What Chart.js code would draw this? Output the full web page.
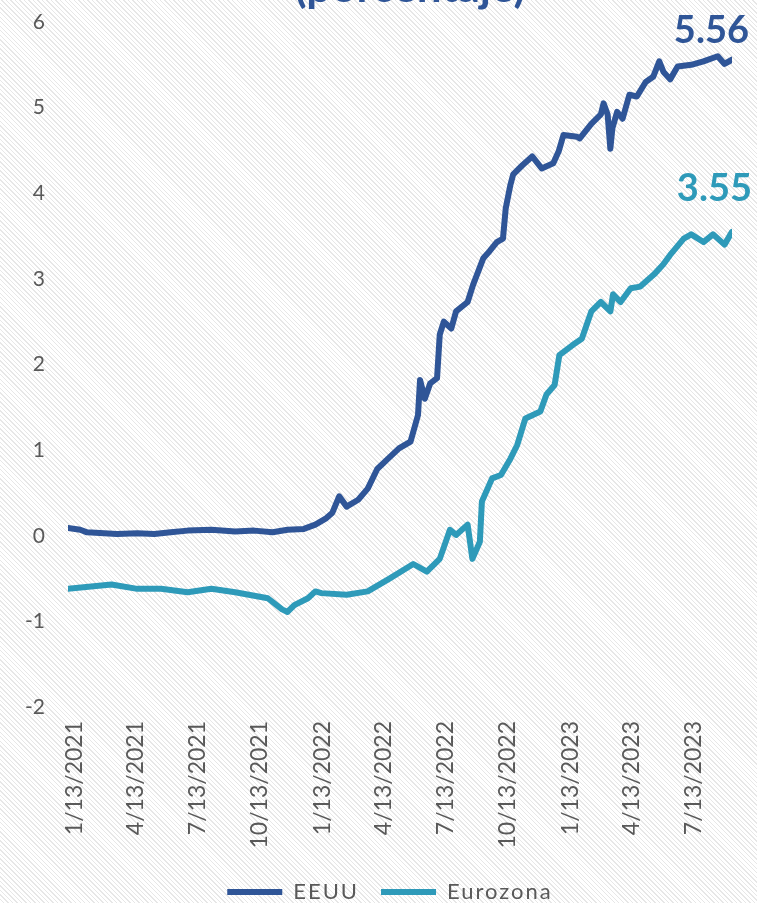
<!DOCTYPE html>
<html>
<head>
<meta charset="utf-8">
<script src="https://cdn.jsdelivr.net/npm/chart.js@4.4.1/dist/chart.umd.min.js"></script>
<style>
  html, body { margin: 0; padding: 0; }
  body {
    width: 757px; height: 903px; overflow: hidden;
    background: repeating-linear-gradient(45deg, #ffffff 0px, #ffffff 2.2px, #e7e7e7 2.2px, #e7e7e7 3.2px);
  }
  #wrap { position: relative; width: 757px; height: 903px; overflow: hidden; }
</style>
</head>
<body>
<div id="wrap"><canvas id="chart" width="757" height="913"></canvas></div>
<script>
// Tasa (porcentaje) - lectura aproximada del gráfico
const eeuuDates = [
  '2021-01-04', '2021-01-22', '2021-02-01', '2021-03-17', '2021-04-16', '2021-05-11',
  '2021-06-04', '2021-06-29', '2021-08-03', '2021-09-07', '2021-10-05', '2021-11-01',
  '2021-11-23', '2021-12-17', '2022-01-03', '2022-01-18', '2022-01-28', '2022-02-07',
  '2022-02-18', '2022-03-07', '2022-03-21', '2022-04-04', '2022-04-20', '2022-05-06',
  '2022-05-23', '2022-06-03', '2022-06-06', '2022-06-13', '2022-06-21', '2022-07-01',
  '2022-07-05', '2022-07-11', '2022-07-22', '2022-07-29', '2022-08-15', '2022-08-23',
  '2022-09-07', '2022-09-16', '2022-09-27', '2022-10-06', '2022-10-10', '2022-10-17',
  '2022-10-21', '2022-11-04', '2022-11-18', '2022-12-02', '2022-12-19', '2022-12-27',
  '2023-01-03', '2023-01-23', '2023-01-27', '2023-02-13', '2023-02-27', '2023-03-03',
  '2023-03-09', '2023-03-13', '2023-03-16', '2023-03-23', '2023-03-31', '2023-04-10',
  '2023-04-21', '2023-05-04', '2023-05-15', '2023-05-24', '2023-05-30', '2023-06-09',
  '2023-06-20', '2023-07-10', '2023-07-28', '2023-08-18', '2023-08-28', '2023-09-08'
];
const eeuuValues = [
  0.09, 0.07, 0.04, 0.02, 0.03, 0.02,
  0.04, 0.06, 0.07, 0.05, 0.06, 0.04,
  0.07, 0.08, 0.13, 0.20, 0.27, 0.46,
  0.34, 0.42, 0.55, 0.78, 0.90, 1.02,
  1.10, 1.41, 1.82, 1.60, 1.78, 1.84,
  2.35, 2.50, 2.42, 2.62, 2.73, 2.93,
  3.24, 3.32, 3.43, 3.47, 3.82, 4.10,
  4.22, 4.33, 4.43, 4.29, 4.35, 4.49,
  4.68, 4.66, 4.64, 4.81, 4.92, 5.05,
  4.92, 4.52, 4.76, 4.95, 4.87, 5.15,
  5.13, 5.30, 5.36, 5.54, 5.42, 5.33,
  5.48, 5.50, 5.54, 5.60, 5.51, 5.56
];

const euroDates = [
  '2021-01-04', '2021-03-09', '2021-04-16', '2021-05-21', '2021-06-29', '2021-08-03',
  '2021-09-07', '2021-10-05', '2021-10-25', '2021-11-15', '2021-11-23', '2021-12-03',
  '2021-12-23', '2022-01-03', '2022-01-12', '2022-02-18', '2022-03-21', '2022-04-22',
  '2022-05-27', '2022-06-16', '2022-07-05', '2022-07-20', '2022-07-29', '2022-08-15',
  '2022-08-22', '2022-09-02', '2022-09-05', '2022-09-20', '2022-10-03', '2022-10-17',
  '2022-10-27', '2022-11-08', '2022-11-30', '2022-12-09', '2022-12-21', '2022-12-28',
  '2023-01-17', '2023-01-30', '2023-02-13', '2023-02-27', '2023-03-13', '2023-03-17',
  '2023-03-28', '2023-04-12', '2023-04-26', '2023-05-16', '2023-05-30', '2023-06-09',
  '2023-06-29', '2023-07-10', '2023-07-28', '2023-08-11', '2023-08-28', '2023-09-08'
];
const euroValues = [
  -0.62, -0.57, -0.62, -0.62, -0.66, -0.62,
  -0.66, -0.70, -0.73, -0.86, -0.89, -0.81,
  -0.73, -0.65, -0.67, -0.69, -0.65, -0.50,
  -0.33, -0.42, -0.27, 0.07, 0.01, 0.13,
  -0.27, -0.07, 0.40, 0.67, 0.71, 0.90,
  1.06, 1.37, 1.45, 1.65, 1.76, 2.11,
  2.23, 2.30, 2.62, 2.73, 2.62, 2.82,
  2.73, 2.89, 2.91, 3.05, 3.17, 3.28,
  3.47, 3.52, 3.43, 3.52, 3.40, 3.55
];

const tickDates = [
  '2021-01-13', '2021-04-13', '2021-07-13', '2021-10-13', '2022-01-13', '2022-04-13',
  '2022-07-13', '2022-10-13', '2023-01-13', '2023-04-13', '2023-07-13'
];
const yTicks = [-2, -1, 0, 1, 2, 3, 4, 5, 6];

const seriesNames = ['EEUU', 'Eurozona'];
const colEEUU = '#2F5597';
const colEuro = '#2E9AB9';

const base = Date.UTC(2021, 0, 13);
function toDay(s) {
  const p = s.split('-').map(Number);
  return (Date.UTC(p[0], p[1] - 1, p[2]) - base) / 86400000;
}
function dayLabel(d) {
  const dt = new Date(base + d * 86400000);
  return (dt.getUTCMonth() + 1) + '/' + dt.getUTCDate() + '/' + dt.getUTCFullYear();
}
function pts(dates, vals) {
  return dates.map((d, i) => ({ x: toDay(d), y: vals[i] }));
}

const fam = 'Lato, "Open Sans", sans-serif';

// leyenda con un poco de espaciado entre letras, como en el original
const legendSpacing = {
  id: 'legendSpacing',
  beforeLayout(chart) {
    const leg = chart.legend;
    if (!leg || leg._spaced) return;
    leg._spaced = true;
    const wrap = (fn) => function () {
      const ctx = chart.ctx;
      const old = ctx.letterSpacing;
      ctx.letterSpacing = '2px';
      const r = fn.apply(this, arguments);
      ctx.letterSpacing = old || '0px';
      return r;
    };
    leg.fit = wrap(leg.fit);
    leg.draw = wrap(leg.draw);
  },
  afterLayout(chart) {
    // la leyenda del original queda un poco a la derecha del centro
    if (chart.legend) {
      chart.legend.left += 24;
      chart.legend.right += 24;
    }
  }
};

// titulo cortado arriba y etiquetas de valor final
const annot = {
  id: 'annot',
  afterDatasetsDraw(chart) {
    const ctx = chart.ctx;
    const ys = chart.scales.y;
    ctx.save();
    ctx.font = 'bold 44px ' + fam;
    ctx.fillStyle = colEEUU;
    ctx.textAlign = 'center';
    ctx.textBaseline = 'alphabetic';
    ctx.fillText('(porcentaje)', 410, 2);

    ctx.font = 'bold 38px ' + fam;
    ctx.textAlign = 'right';
    const lastE = eeuuValues[eeuuValues.length - 1];
    const lastZ = euroValues[euroValues.length - 1];
    ctx.fillStyle = colEEUU;
    ctx.fillText(lastE.toFixed(2), 749, ys.getPixelForValue(lastE) - 17);
    ctx.fillStyle = colEuro;
    ctx.fillText(lastZ.toFixed(2), 752, ys.getPixelForValue(lastZ) - 31);
    ctx.restore();
  }
};

const lineStyle = {
  borderWidth: 6,
  pointRadius: 0,
  tension: 0,
  borderJoinStyle: 'round',
  borderCapStyle: 'round',
  fill: false
};

new Chart(document.getElementById('chart').getContext('2d'), {
  type: 'line',
  data: {
    datasets: [
      Object.assign({ label: seriesNames[0], data: pts(eeuuDates, eeuuValues),
        borderColor: colEEUU, backgroundColor: colEEUU }, lineStyle),
      Object.assign({ label: seriesNames[1], data: pts(euroDates, euroValues),
        borderColor: colEuro, backgroundColor: colEuro }, lineStyle)
    ]
  },
  options: {
    responsive: false,
    animation: false,
    layout: { padding: { top: 22, right: 25, left: 0, bottom: 0 } },
    plugins: {
      legend: {
        position: 'bottom',
        labels: {
          usePointStyle: true,
          pointStyle: 'line',
          pointStyleWidth: 55,
          boxHeight: 6,
          color: '#595959',
          font: { family: fam, size: 22 },
          padding: 22
        }
      },
      tooltip: { enabled: false }
    },
    scales: {
      x: {
        type: 'linear',
        min: toDay(eeuuDates[0]),
        max: toDay(eeuuDates[eeuuDates.length - 1]),
        grid: { display: false, drawTicks: false },
        border: { display: false },
        afterBuildTicks(scale) {
          scale.ticks = tickDates.map(d => ({ value: toDay(d) }));
        },
        afterFit(scale) {
          scale.height = 152;
          scale.paddingLeft = 0;
          scale.paddingRight = 0;
          scale.paddingTop = 0;
          scale.paddingBottom = 0;
        },
        ticks: {
          autoSkip: false,
          minRotation: 90,
          maxRotation: 90,
          padding: 14,
          color: '#595959',
          font: { family: fam, size: 23 },
          callback: (v) => dayLabel(v)
        }
      },
      y: {
        min: -2,
        max: 6,
        grid: { display: false, drawTicks: false },
        border: { display: false },
        afterBuildTicks(scale) {
          scale.ticks = yTicks.map(v => ({ value: v }));
        },
        afterFit(scale) {
          scale.width = 68;
          scale.paddingTop = 0;
          scale.paddingBottom = 0;
        },
        ticks: {
          padding: 23,
          color: '#595959',
          font: { family: fam, size: 21 }
        }
      }
    }
  },
  plugins: [legendSpacing, annot]
});
</script>
</body>
</html>
